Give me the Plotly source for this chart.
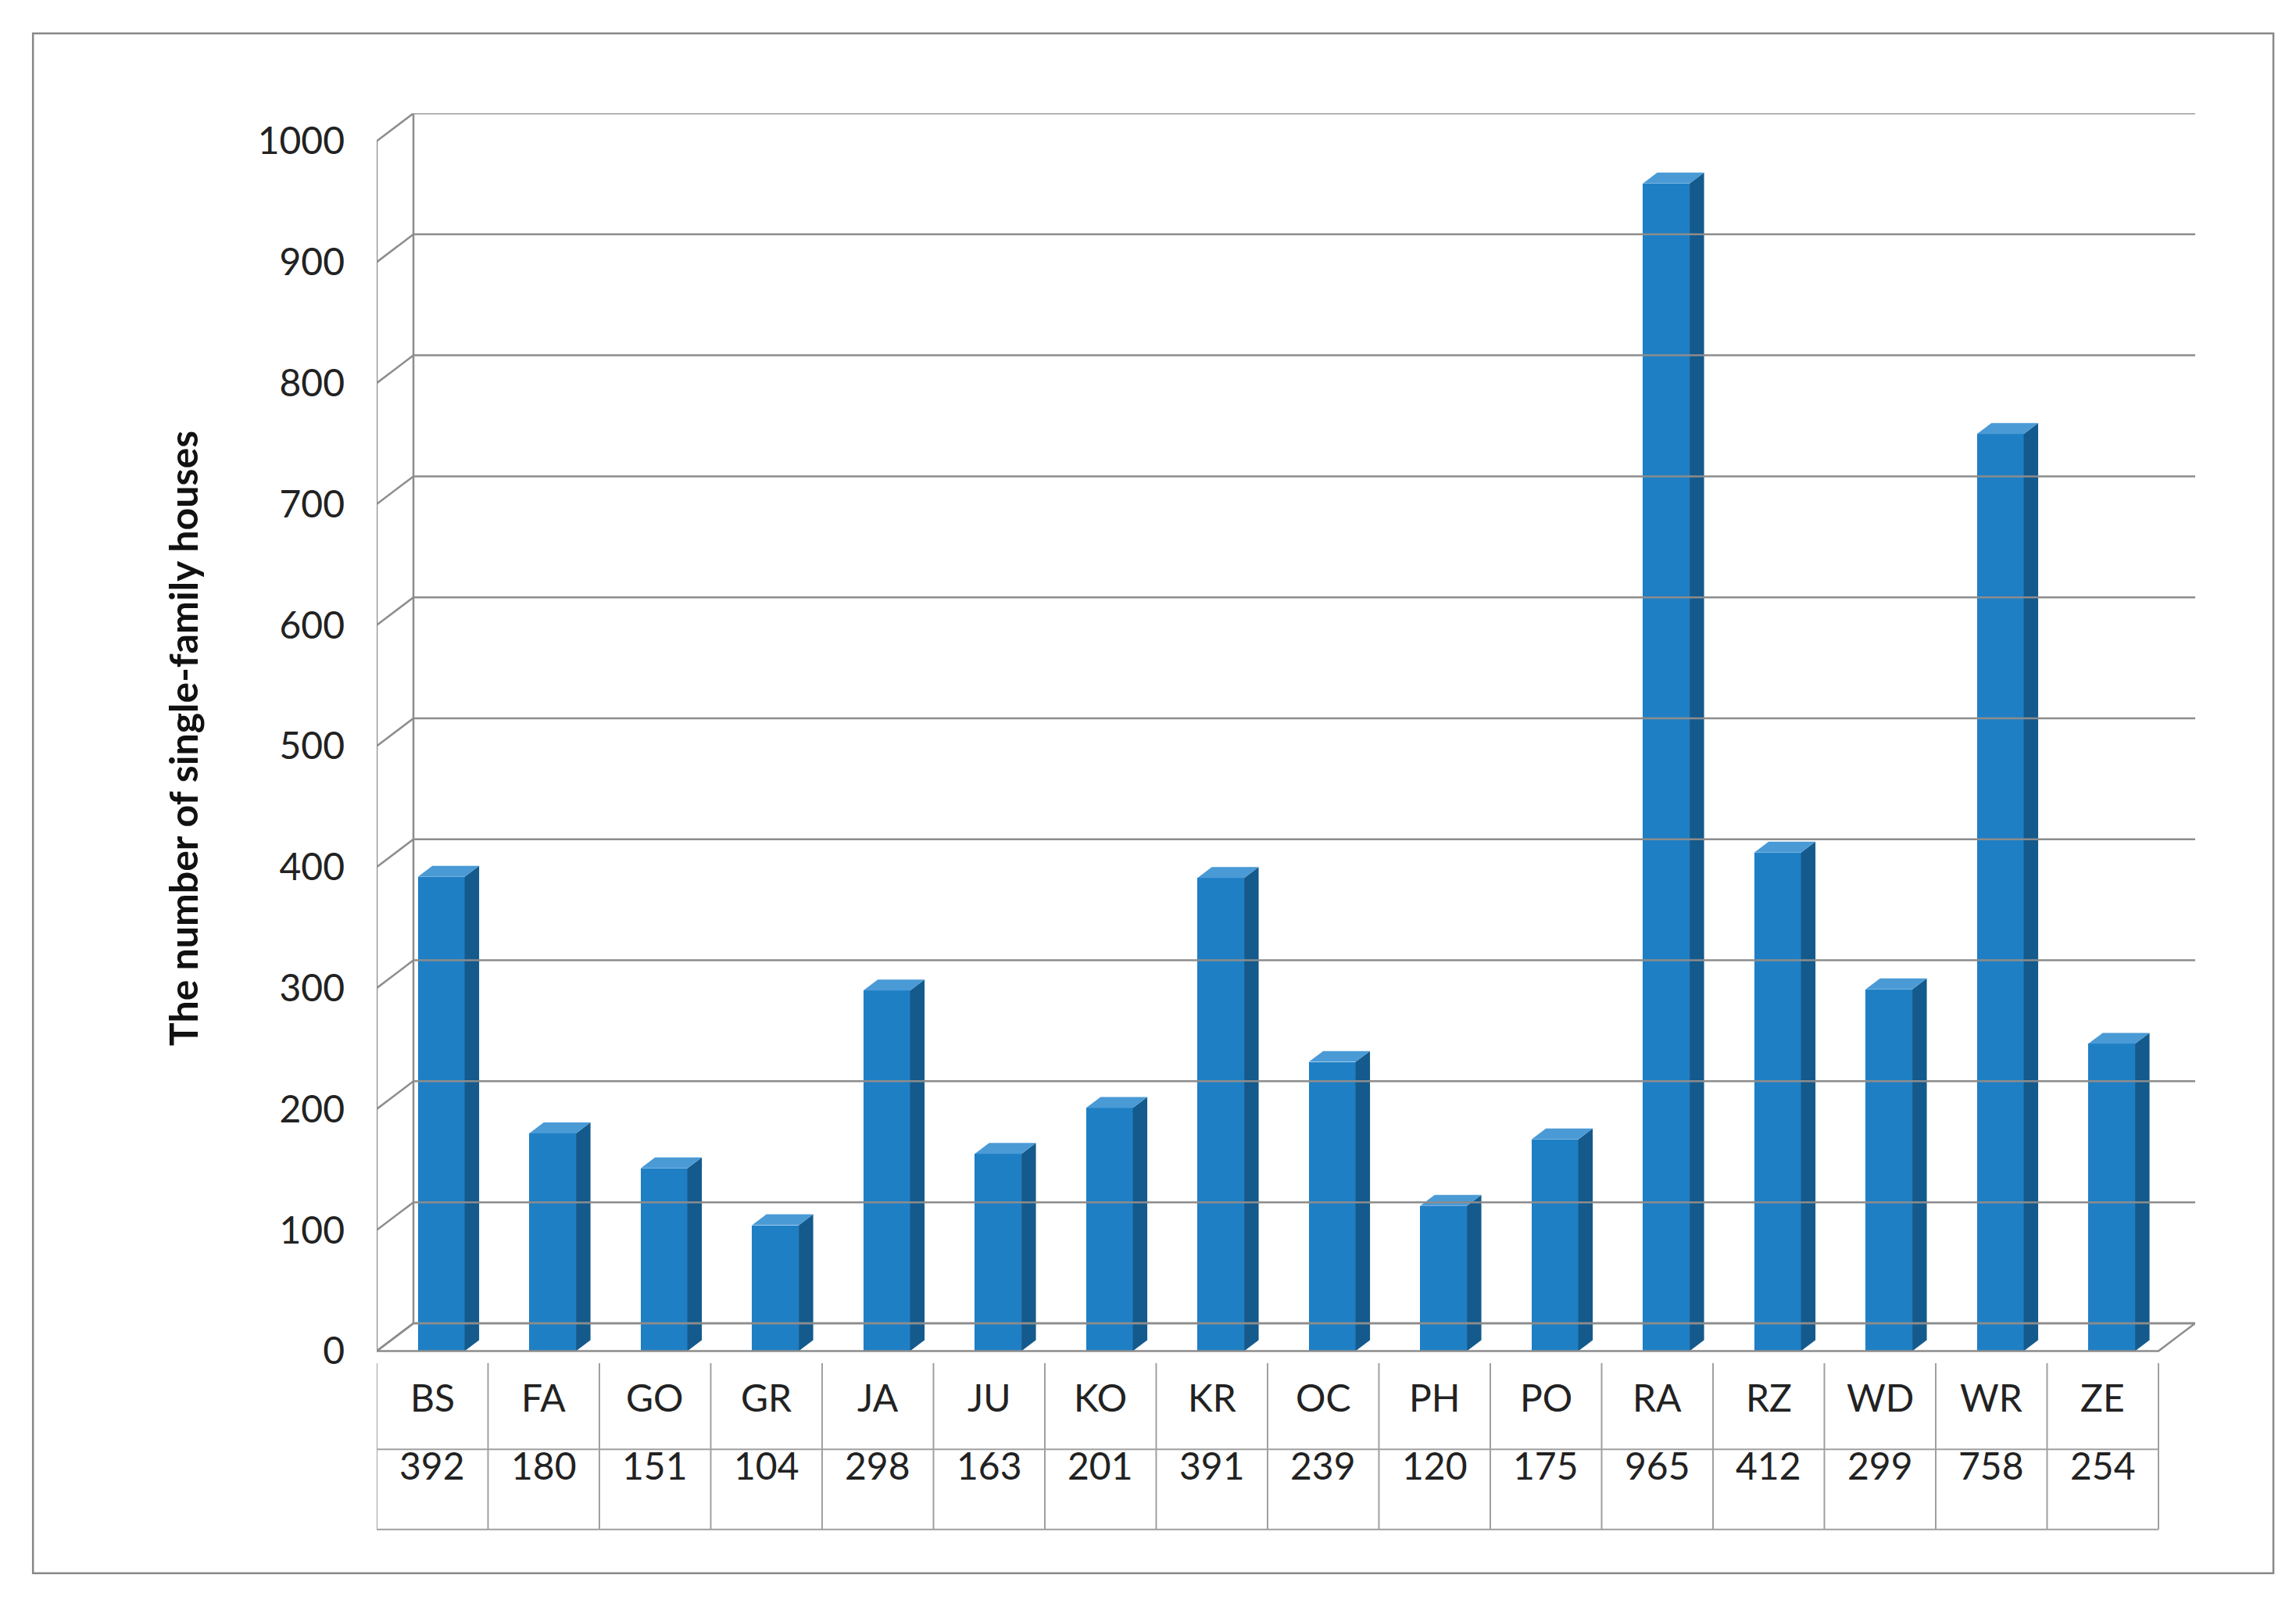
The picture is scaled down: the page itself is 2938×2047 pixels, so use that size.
import plotly.graph_objects as go

categories = ["BS","FA","GO","GR","JA","JU","KO","KR","OC","PH","PO","RA","RZ","WD","WR","ZE"]
values = [392,180,151,104,298,163,201,391,239,120,175,965,412,299,758,254]
yticks = [0,100,200,300,400,500,600,700,800,900,1000]

n = len(categories)
DX, DY = 0.33, 23          # wall depth (x units, y units)
BW, BX, BY = 0.42, 0.13, 9  # bar width, bar depth
GRID = "#8c8c8c"
FRONT, SIDE, TOP = "#1f7fc4", "#145a8c", "#4a9ad6"
FONT = "Lato"

fig = go.Figure()
shapes = []
line = dict(color=GRID, width=2.5)
# back wall gridlines + diagonals
for v in yticks:
    shapes.append(dict(type="line", xref="x", yref="y", x0=DX, x1=n+DX, y0=v+DY, y1=v+DY, line=line))
    shapes.append(dict(type="line", xref="x", yref="y", x0=0, x1=DX, y0=v, y1=v+DY, line=line))
    shapes.append(dict(type="line", xref="x", yref="y", x0=-0.08, x1=0, y0=v, y1=v, line=line))
shapes.append(dict(type="line", xref="x", yref="y", x0=DX, x1=DX, y0=DY, y1=yticks[-1]+DY, line=line))
shapes.append(dict(type="line", xref="x", yref="y", x0=0, x1=0, y0=0, y1=yticks[-1], line=line))
# floor
shapes.append(dict(type="path", xref="x", yref="y",
                   path=f"M 0 0 L {n} 0 L {n+DX} {DY} L {DX} {DY} Z", line=line))

# bars
centers = [i + 0.5 + 0.08 for i in range(n)]
fig.add_trace(go.Bar(x=centers, y=values, width=BW, marker=dict(color=FRONT, line=dict(width=0)),
                     showlegend=False, hoverinfo="skip"))
for c, v in zip(centers, values):
    xl, xr = c - BW/2, c + BW/2
    fig.add_trace(go.Scatter(x=[xr, xr+BX, xr+BX, xr, xr], y=[0, BY, v+BY, v, 0], fill="toself",
                             fillcolor=SIDE, line=dict(width=0), mode="lines", showlegend=False, hoverinfo="skip"))
    fig.add_trace(go.Scatter(x=[xl, xr, xr+BX, xl+BX, xl], y=[v, v, v+BY, v+BY, v], fill="toself",
                             fillcolor=TOP, line=dict(width=0), mode="lines", showlegend=False, hoverinfo="skip"))

# data table
R0, R1, R2 = 0.0, -0.069, -0.133
tl = dict(color="#a0a0a0", width=2)
for i in range(n + 1):
    shapes.append(dict(type="line", xref="x", yref="paper", x0=i, x1=i, y0=R0, y1=R2, line=tl))
shapes.append(dict(type="line", xref="x", yref="paper", x0=-0.7, x1=n, y0=R1, y1=R1, line=tl))
shapes.append(dict(type="line", xref="x", yref="paper", x0=-0.7, x1=n, y0=R2, y1=R2, line=tl))
shapes.append(dict(type="line", xref="x", yref="paper", x0=-0.7, x1=-0.7, y0=R1, y1=R2, line=tl))
shapes.append(dict(type="rect", xref="x", yref="paper", x0=-0.42, x1=-0.28, y0=-0.093, y1=-0.109,
                   fillcolor=FRONT, line=dict(width=0)))
ann = []
for i, (c, v) in enumerate(zip(categories, values)):
    ann.append(dict(x=i+0.5, y=(R0+R1)/2 - 0.012, xref="x", yref="paper", text=c, showarrow=False,
                    font=dict(size=48, color="#222", family=FONT)))
    ann.append(dict(x=i+0.5, y=(R1+R2)/2, xref="x", yref="paper", text=str(v), showarrow=False,
                    font=dict(size=48, color="#222", family=FONT)))
# outer border
shapes.append(dict(type="rect", xref="paper", yref="paper", x0=-0.189, x1=1.043, y0=-0.168, y1=1.064,
                   line=dict(color="#888", width=2.5)))

fig.update_layout(
    width=2938, height=2047, plot_bgcolor="white", paper_bgcolor="white",
    margin=dict(l=474, r=137, t=137, b=311),
    shapes=shapes, annotations=ann, bargap=0,
    xaxis=dict(range=[0, n+DX], showgrid=False, zeroline=False, showticklabels=False, fixedrange=True),
    yaxis=dict(range=[-10, 1023], showgrid=False, zeroline=False, tickvals=yticks,
               ticklabelstandoff=40, tickfont=dict(size=48, color="#222", family=FONT),
               title=dict(text="<b>The number of single-family houses</b>", font=dict(size=50, color="#111", family=FONT),
                          standoff=60)),
    font=dict(family=FONT),
)
fig.write_html("out.html")
